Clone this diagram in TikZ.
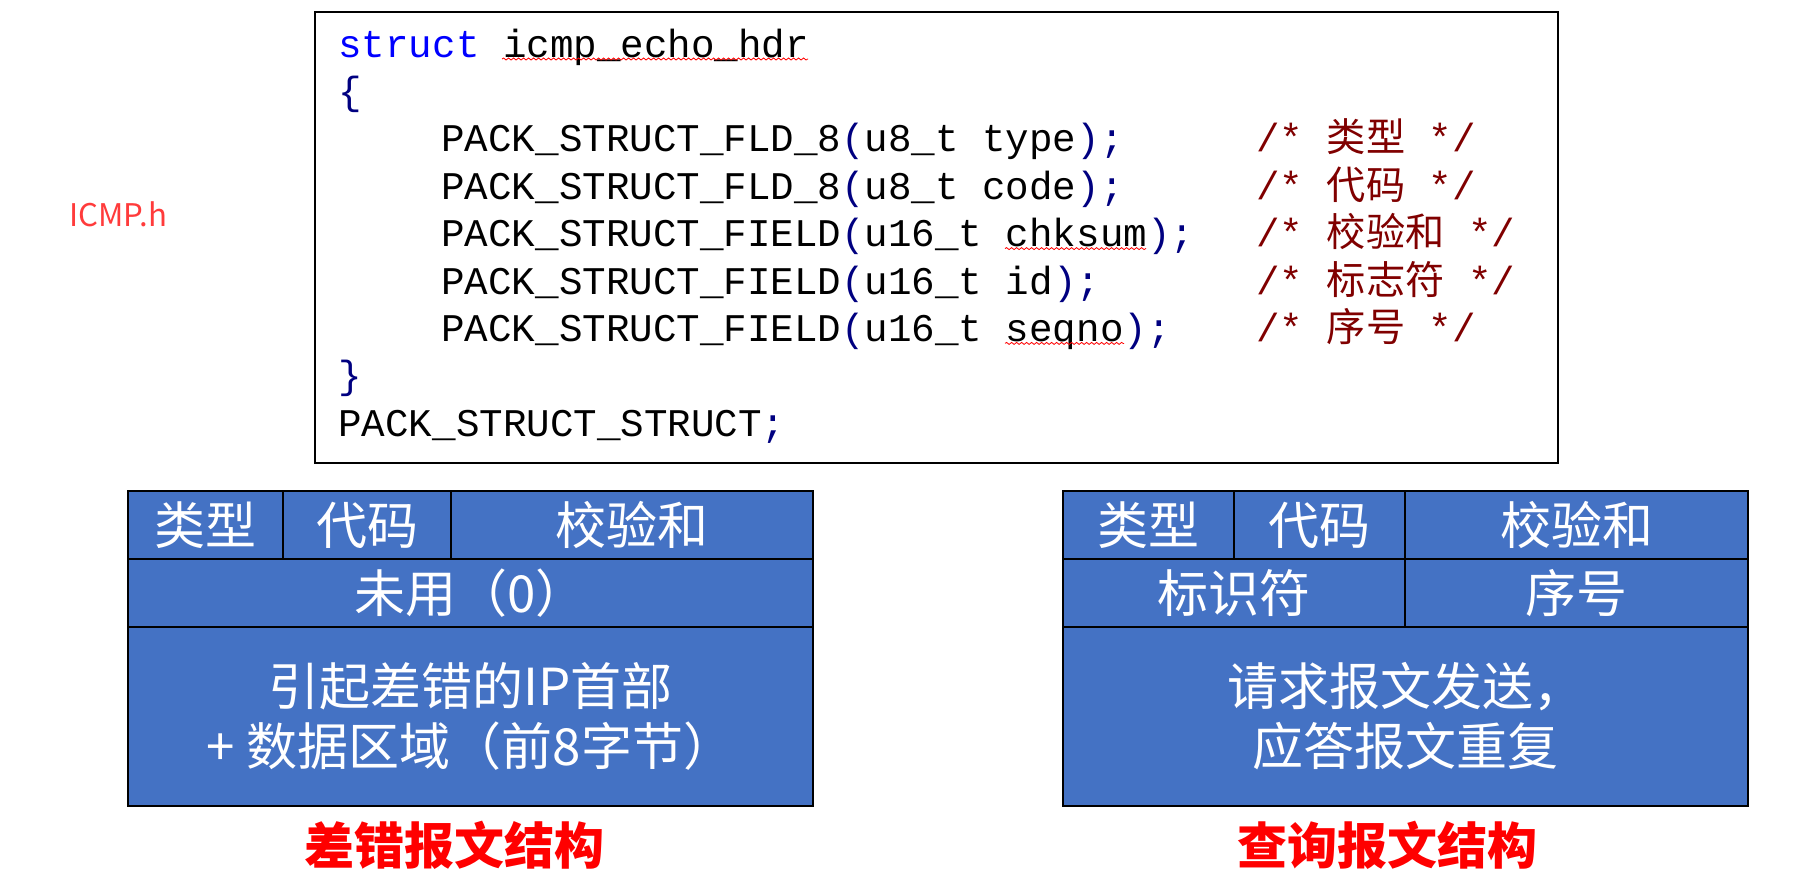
\documentclass[tikz,border=0pt]{standalone}
\usepackage{fontspec}
\setmainfont{Noto Sans CJK SC}
\newfontfamily\cjk{Noto Sans CJK SC}
\newfontfamily\mono{Liberation Mono}
\usetikzlibrary{decorations.pathmorphing}
\definecolor{cellblue}{HTML}{4472C4}
\definecolor{kwblue}{HTML}{0000FF}
\definecolor{navy}{HTML}{000080}
\definecolor{cmt}{HTML}{800000}
\definecolor{lbl}{HTML}{FF3B3B}
\frenchspacing
\begin{document}
\begin{tikzpicture}[x=0.5pt,y=-0.5pt,
  cell/.style={draw=black, line width=1.4pt, fill=cellblue, text=white, inner sep=0pt,
    font=\cjk\fontsize{25.5}{30}\selectfont, align=center},
  code/.style={anchor=base west, inner sep=0pt, font=\mono\fontsize{19.6}{23}\selectfont},
  cmtnode/.style={code, text=cmt},
  caption/.style={text=red, inner sep=0pt, font=\cjk\bfseries\fontsize{25}{30}\selectfont},
  squiggle/.style={draw=red, line width=0.4pt, decorate,
    decoration={snake, amplitude=0.5pt, segment length=2.5pt}}
]
\useasboundingbox (0,0) rectangle (1798,873);

% code box
\node[draw=black, line width=1pt, minimum width=621.5pt, minimum height=225.75pt, inner sep=0pt]
  (box) at (936.5,237.25) {};

\node[code] (c0) at (338,57) {{\color{kwblue}struct} icmp\_echo\_hdr};
\node[code] (c1) at (338,104.4) {{\color{navy}\{}};
\node[code] (c2) at (441,151.8) {PACK\_STRUCT\_FLD\_8{\color{navy}(}u8\_t type{\color{navy});}};
\node[code] (c3) at (441,199.2) {PACK\_STRUCT\_FLD\_8{\color{navy}(}u8\_t code{\color{navy});}};
\node[code] (c4) at (441,246.6) {PACK\_STRUCT\_FIELD{\color{navy}(}u16\_t chksum{\color{navy});}};
\node[code] (c5) at (441,294) {PACK\_STRUCT\_FIELD{\color{navy}(}u16\_t id{\color{navy});}};
\node[code] (c6) at (441,341.4) {PACK\_STRUCT\_FIELD{\color{navy}(}u16\_t seqno{\color{navy});}};
\node[code] (c7) at (338,388.8) {{\color{navy}\}}};
\node[code] (c8) at (338,436.2) {PACK\_STRUCT\_STRUCT{\color{navy};}};

\node[cmtnode] (m2) at (1256,151.8) {/* {\cjk 类型} */};
\node[cmtnode] (m3) at (1256,199.2) {/* {\cjk 代码} */};
\node[cmtnode] (m4) at (1256,246.6) {/* {\cjk 校验和} */};
\node[cmtnode] (m5) at (1256,294) {/* {\cjk 标志符} */};
\node[cmtnode] (m6) at (1256,341.4) {/* {\cjk 序号} */};

% spell-check squiggles
\coordinate (s0a) at (502,59); \coordinate (s0b) at (808,59);
\coordinate (s4a) at (1005,248.6); \coordinate (s4b) at (1146,248.6);
\coordinate (s6a) at (1005,343.4); \coordinate (s6b) at (1124,343.4);
\path[squiggle] (s0a) -- (s0b);
\path[squiggle] (s4a) -- (s4b);
\path[squiggle] (s6a) -- (s6b);

% label
\node[text=lbl, inner sep=0pt, font=\cjk\fontsize{15.6}{18}\selectfont] (file) at (118,214) {ICMP.h};

% left table
\node[cell, minimum width=77.5pt, minimum height=34pt] (l11) at (205.5,525) {类型};
\node[cell, minimum width=84pt, minimum height=34pt] (l12) at (367,525) {代码};
\node[cell, minimum width=181pt, minimum height=34pt] (l13) at (632,525) {校验和};
\node[cell, minimum width=342.5pt, minimum height=34pt] (l2) at (470.5,593) {未用（0）};
\node[cell, minimum width=342.5pt, minimum height=89.5pt] (l3) at (470.5,716.5) {引起差错的IP首部\\+ 数据区域（前8字节）};

% right table
\node[cell, minimum width=85.5pt, minimum height=34pt] (r11) at (1148.5,525) {类型};
\node[cell, minimum width=85.5pt, minimum height=34pt] (r12) at (1319.5,525) {代码};
\node[cell, minimum width=171.5pt, minimum height=34pt] (r13) at (1576.5,525) {校验和};
\node[cell, minimum width=171pt, minimum height=34pt] (r21) at (1234,593) {标识符};
\node[cell, minimum width=171.5pt, minimum height=34pt] (r22) at (1576.5,593) {序号};
\node[cell, minimum width=342.5pt, minimum height=89.5pt] (r3) at (1405.5,716.5) {请求报文发送，\\应答报文重复};

% captions
\node[caption] (cap1) at (454,845) {差错报文结构};
\node[caption] (cap2) at (1387,845) {查询报文结构};
\end{tikzpicture}
\end{document}
